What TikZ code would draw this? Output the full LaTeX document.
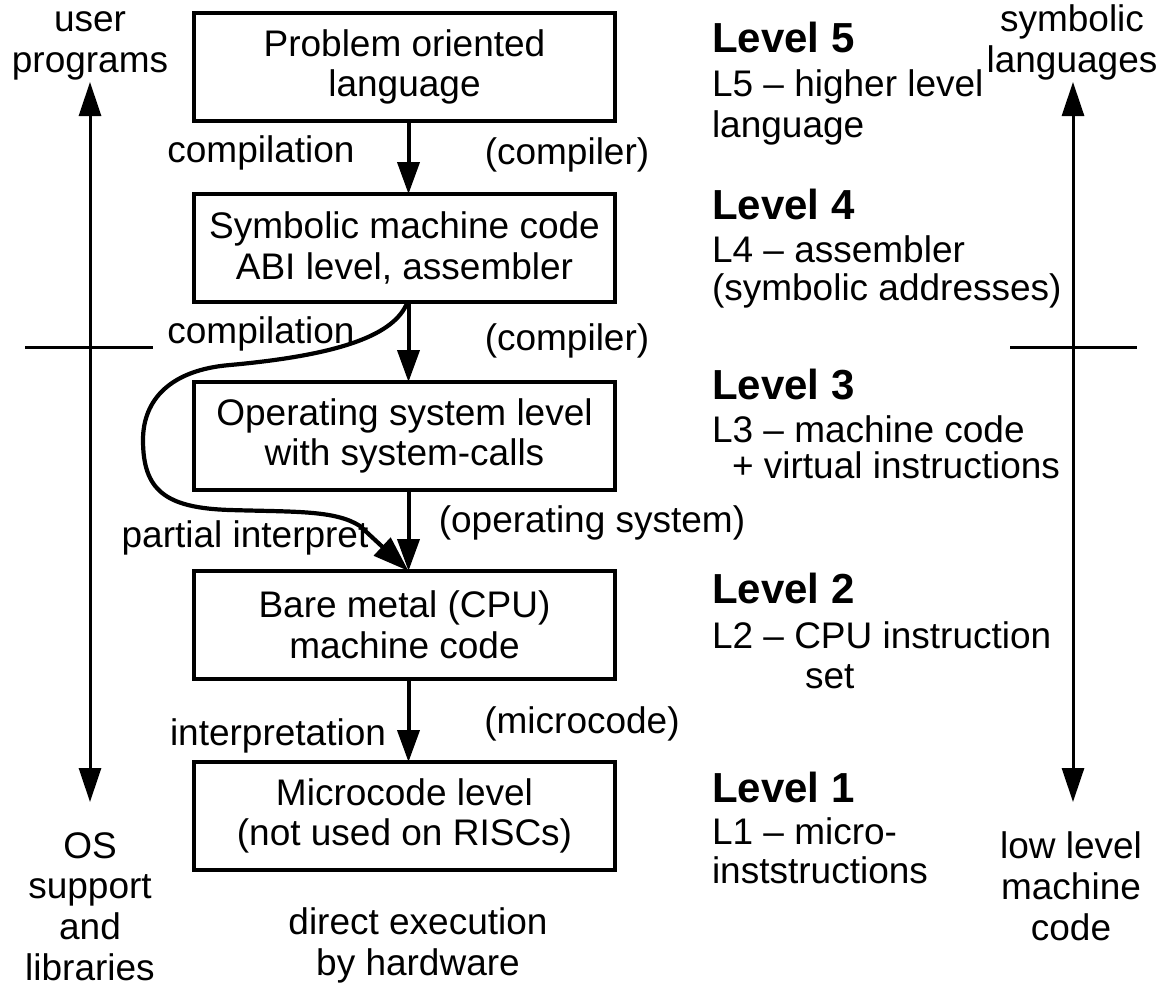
\documentclass[tikz,border=0pt]{standalone}
\usepackage{fontspec}
\setmainfont{Liberation Sans}
\usetikzlibrary{arrows.meta}
\begin{document}
\begin{tikzpicture}[
  x=0.5pt, y=-0.5pt,
  every node/.style={font=\fontsize{18.5}{20.3}\selectfont, inner sep=0pt, outer sep=0pt},
  levelbox/.style={draw, line width=2.2pt, minimum width=210.5pt, minimum height=54pt, align=center},
  flow/.style={line width=2pt, -{Triangle[length=16pt,width=11pt]}},
  bypass/.style={line width=2.1pt, -{Triangle[length=18pt,width=12pt]}},
  sidearrow/.style={line width=1.5pt, {Triangle[length=17pt,width=11pt]}-{Triangle[length=17pt,width=11pt]}},
  divider/.style={line width=1.5pt},
  levelhead/.style={anchor=base west, font=\fontsize{21}{24}\selectfont\bfseries},
  desc/.style={anchor=base west},
  lbl/.style={anchor=base, align=center}
]
\useasboundingbox (0,0) rectangle (1163,985);

% the five levels
\node[levelbox] (b1) at (404.5,67)  {Problem oriented\\language};
\node[levelbox] (b2) at (404.5,248) {Symbolic machine code\\ABI level, assembler};
\node[levelbox] (b3) at (404.5,436) {Operating system level\\with system-calls};
\node[levelbox] (b4) at (404.5,625) {Bare metal (CPU)\\machine code};
\node[levelbox] (b5) at (404.5,816) {Microcode level\\(not used on RISCs)};

% translation steps between levels
\draw[flow] ([xshift=2pt]b1.south) -- ([xshift=2pt]b2.north);
\draw[flow] ([xshift=2pt]b2.south) -- ([xshift=2pt]b3.north);
\draw[flow] ([xshift=2pt]b3.south) -- ([xshift=2pt]b4.north);
\draw[flow] ([xshift=2pt]b4.south) -- ([xshift=2pt]b5.north);

% partial interpretation bypassing level 3 (straight last piece carries the tip)
\draw[bypass] ([xshift=1.5pt]b2.south)
  .. controls (395,335) and (340,355) .. (230,365)
  .. controls (170,370) and (143,400) .. (143,440)
  .. controls (143,490) and (165,508) .. (230,510)
  .. controls (295,512) and (335,510) .. (360,526)
  -- ([xshift=2pt]b4.north);

% step labels
\node[lbl] (c1)  at (261,162) {compilation};
\node[lbl] (cc1) at (567,164) {(compiler)};
\node[lbl] (c2)  at (261,343) {compilation};
\node[lbl] (cc2) at (567,350) {(compiler)};
\node[lbl] (pi)  at (245,547) {partial interpret};
\node[lbl] (os)  at (592,532) {(operating system)};
\node[lbl] (ip)  at (278,745) {interpretation};
\node[lbl] (mc)  at (582,733) {(microcode)};
\node[lbl] (dx)  at (418,975) {direct execution\\by hardware};

% level descriptions
\node[levelhead] (h5) at (712,53)  {Level 5};
\node[desc] (d5a) at (712,97)  {L5 – higher level};
\node[desc] (d5b) at (712,137) {language};
\node[levelhead] (h4) at (712,219) {Level 4};
\node[desc] (d4a) at (712,262) {L4 – assembler};
\node[desc] (d4b) at (712,300) {(symbolic addresses)};
\node[levelhead] (h3) at (712,399) {Level 3};
\node[desc] (d3a) at (712,442) {L3 – machine code};
\node[desc] (d3b) at (732,478) {+ virtual instructions};
\node[levelhead] (h2) at (712,603) {Level 2};
\node[desc] (d2a) at (712,648) {L2 – CPU instruction};
\node[desc] (d2b) at (805,688) {set};
\node[levelhead] (h1) at (712,802) {Level 1};
\node[desc] (d1a) at (712,844) {L1 – micro-};
\node[desc] (d1b) at (712,883) {inststructions};

% side scales (base anchor sits on the last line)
\node[lbl] (up)  at (90,72)    {user\\programs};
\node[lbl] (lib) at (90,980)   {OS\\support\\and\\libraries};
\node[lbl] (sym) at (1072,72)  {symbolic\\languages};
\node[lbl] (low) at (1071,940) {low level\\machine\\code};

\coordinate (lt) at (90,82);
\coordinate (lb) at (90,802);
\coordinate (rt) at (1073,82);
\coordinate (rb) at (1073,802);
\draw[sidearrow] (lt) -- (lb);
\draw[sidearrow] (rt) -- (rb);

\coordinate (dl1) at (25,347);
\coordinate (dl2) at (153,347);
\coordinate (dr1) at (1010,347);
\coordinate (dr2) at (1137,347);
\draw[divider] (dl1) -- (dl2);
\draw[divider] (dr1) -- (dr2);
\end{tikzpicture}
\end{document}
